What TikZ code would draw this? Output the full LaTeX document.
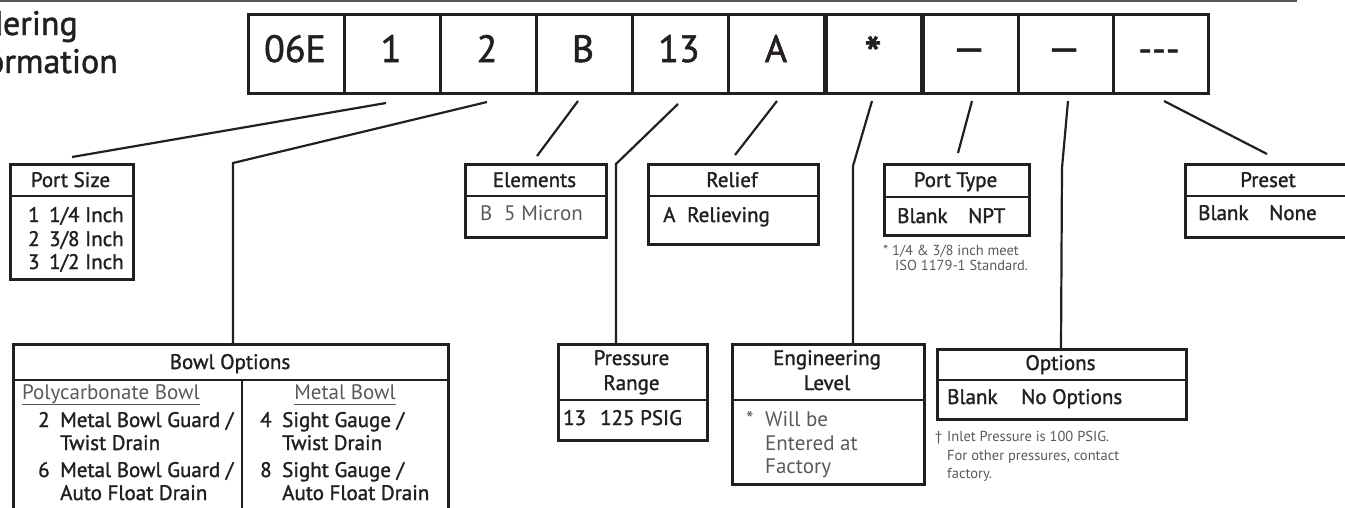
\documentclass[tikz,border=0pt]{standalone}
\usepackage{fontspec}
\setmainfont{PT Sans}[Ligatures=NoCommon]
\newfontfamily\plainfont{PT Sans}
\newfontfamily\medfont{PT Sans}[FakeBold=1.4]
\definecolor{ink}{HTML}{231F20}
\definecolor{gry}{HTML}{58595B}
\definecolor{rulegray}{HTML}{555555}
\newcommand{\codefont}{\medfont\fontsize{38}{40}\selectfont}
\newcommand{\starfont}{\medfont\fontsize{50}{52}\selectfont}
\newcommand{\dashfont}{\medfont\fontsize{41}{42}\selectfont}
\newcommand{\titfont}{\medfont\fontsize{34}{38}\selectfont}
\newcommand{\hdfont}{\medfont\fontsize{21}{23}\selectfont}
\newcommand{\ltfont}{\plainfont\fontsize{21}{23}\selectfont}
\newcommand{\fnfont}{\plainfont\fontsize{14.5}{16}\selectfont}
\tikzset{
  boxline/.style={draw=ink, line width=2.6pt},
  box/.style={boxline, inner sep=0pt, anchor=north west},
  lead/.style={draw=ink, line width=2.2pt},
  hd/.style={font=\hdfont, text=ink, anchor=base, inner sep=0pt},
  it/.style={font=\hdfont, text=ink, anchor=base west, inner sep=0pt},
  lt/.style={font=\ltfont, text=gry, anchor=base west, inner sep=0pt},
  fn/.style={font=\fnfont, text=gry, anchor=base west, inner sep=0pt},
  codetxt/.style={font=\codefont, text=ink, anchor=base, inner sep=0pt},
  cell/.style={boxline, inner sep=0pt, minimum height=79pt, anchor=north west},
}
\begin{document}
\begin{tikzpicture}[x=1pt,y=-1pt]
\useasboundingbox (0,0) rectangle (1345,507);
\clip (0,0) rectangle (1345,507);
% top rule
\draw[rulegray, line width=1.6pt] (0,0.8) -- (1297,0.8);
% title
\node[font=\titfont, text=ink, anchor=base east, inner sep=0pt] (t1) at (78,35) {Ordering};
\node[font=\titfont, text=ink, anchor=base east, inner sep=0pt] (t2) at (118,73) {Information};
% code cells
\node[cell, minimum width=96pt] (c1) at (247,13) {};
\node[cell, minimum width=96pt] (c2) at (343,13) {};
\node[cell, minimum width=96pt] (c3) at (439,13) {};
\node[cell, minimum width=96pt] (c4) at (535,13) {};
\node[cell, minimum width=96pt] (c5) at (631,13) {};
\node[cell, minimum width=96pt] (c6) at (727,13) {};
\node[cell, minimum width=99pt] (c7) at (823,13) {};
\node[cell, minimum width=95pt] (c8) at (825,13) {};
\node[cell, minimum width=96pt] (c9) at (921,13) {};
\node[cell, minimum width=95pt] (c10) at (1017,13) {};
\node[cell, minimum width=95pt] (c11) at (1112,13) {};
% code texts
\node[codetxt] (k1) at (295,62) {06E};
\node[codetxt] (k2) at (391,62) {1};
\node[codetxt] (k3) at (487,62) {2};
\node[codetxt] (k4) at (583,62) {B};
\node[codetxt] (k5) at (679,62) {13};
\node[codetxt] (k6) at (776,62) {A};
\node[font=\starfont, text=ink, anchor=base, inner sep=0pt] (k7) at (873,72) {*};
\node[font=\dashfont, text=ink, anchor=base, inner sep=0pt] (k8) at (969,62) {—};
\node[font=\dashfont, text=ink, anchor=base, inner sep=0pt] (k9) at (1064,62) {—};
\node[codetxt] (k10) at (1159,62) {-{}-{}-};
% ---------- boxes ----------
% Port Size
\node[box, minimum width=123pt, minimum height=115pt] (ps) at (9,163) {};
\draw[boxline] (9,196) -- (132,196);
\node[hd] (psh) at (70.5,187) {Port Size};
\node[it] (ps1n) at (28,222) {1};
\node[it] (ps1) at (49,222) {1/4 Inch};
\node[it] (ps2n) at (28,246) {2};
\node[it] (ps2) at (49,246) {3/8 Inch};
\node[it] (ps3n) at (28,269) {3};
\node[it] (ps3) at (49,269) {1/2 Inch};
% Elements
\node[box, minimum width=141pt, minimum height=73pt] (el) at (464,163) {};
\draw[boxline] (464,196) -- (605,196);
\node[hd] (elh) at (534.5,187) {Elements};
\node[lt] (el1n) at (480,220) {B};
\node[lt] (el1) at (504,220) {5 Micron};
% Relief
\node[box, minimum width=170pt, minimum height=80pt] (re) at (647,163) {};
\draw[boxline] (647,196) -- (817,196);
\node[hd] (reh) at (732,187) {Relief};
\node[it] (re1n) at (663,222) {A};
\node[it] (re1) at (687,222) {Relieving};
% Port Type
\node[box, minimum width=145pt, minimum height=71pt] (pt) at (883,163) {};
\draw[boxline] (883,197) -- (1028,197);
\node[hd] (pth) at (955.5,187) {Port Type};
\node[it] (pt1n) at (897,223) {Blank};
\node[it] (pt1) at (968,223) {NPT};
\node[fn] (ptf1) at (883,255) {* 1/4 \& 3/8 inch meet};
\node[fn] (ptf2) at (895,270) {ISO 1179-1 Standard.};
% Preset
\node[box, minimum width=200pt, minimum height=73pt] (pr) at (1184,163) {};
\draw[boxline] (1184,196) -- (1384,196);
\node[hd] (prh) at (1268,187) {Preset};
\node[it] (pr1n) at (1198,220) {Blank};
\node[it] (pr1) at (1269,220) {None};
% Bowl Options
\node[box, minimum width=435pt, minimum height=200pt] (bo) at (12,343) {};
\draw[boxline] (12,380) -- (447,380);
\draw[boxline] (242,380) -- (242,560);
\node[hd] (boh) at (230,369) {Bowl Options};
\node[lt] (pc) at (22,399) {Polycarbonate Bowl};
\draw[gry, line width=1pt] ([yshift=-5pt]pc.base west) -- ([yshift=-5pt]pc.base east);
\node[font=\ltfont, text=gry, anchor=base, inner sep=0pt] (mb) at (345,399) {Metal Bowl};
\draw[gry, line width=1pt] ([yshift=-5pt]mb.base west) -- ([yshift=-5pt]mb.base east);
\node[it] (bo2n) at (38,427) {2};
\node[it] (bo2a) at (60,427) {Metal Bowl Guard /};
\node[it] (bo2b) at (60,450) {Twist Drain};
\node[it] (bo6n) at (38,477) {6};
\node[it] (bo6a) at (60,477) {Metal Bowl Guard /};
\node[it] (bo6b) at (60,500) {Auto Float Drain};
\node[it] (bo4n) at (260,427) {4};
\node[it] (bo4a) at (282,427) {Sight Gauge /};
\node[it] (bo4b) at (282,450) {Twist Drain};
\node[it] (bo8n) at (260,477) {8};
\node[it] (bo8a) at (282,477) {Sight Gauge /};
\node[it] (bo8b) at (282,500) {Auto Float Drain};
% Pressure Range
\node[box, minimum width=149pt, minimum height=96pt] (pg) at (557,343) {};
\draw[boxline] (557,400) -- (706,400);
\node[hd] (pgh1) at (631.5,365) {Pressure};
\node[hd] (pgh2) at (631.5,390) {Range};
\node[it] (pg1n) at (563,425) {13};
\node[it] (pg1) at (600,425) {125 PSIG};
% Engineering Level
\node[box, minimum width=192pt, minimum height=140pt] (en) at (731,343) {};
\draw[boxline] (731,400) -- (923,400);
\node[hd] (enh1) at (827,365) {Engineering};
\node[hd] (enh2) at (827,390) {Level};
\node[lt] (en1n) at (746,426) {*};
\node[lt] (en1) at (765,426) {Will be};
\node[lt] (en2) at (765,450) {Entered at};
\node[lt] (en3) at (765,473) {Factory};
% Options
\node[box, minimum width=249pt, minimum height=70pt] (op) at (936,348) {};
\draw[boxline] (936,380) -- (1185,380);
\node[hd] (oph) at (1060.5,370) {Options};
\node[it] (op1n) at (947,404) {Blank};
\node[it] (op1) at (1021,404) {No Options};
\node[fn] (opf0) at (935,441) {†};
\node[fn] (opf1) at (947,441) {Inlet Pressure is 100 PSIG.};
\node[fn] (opf2) at (947,460) {For other pressures, contact};
\node[fn] (opf3) at (947,478) {factory.};
% ---------- leaders ----------
\coordinate (a1) at (386,103); \coordinate (b1) at (72,157);
\coordinate (a2) at (487,102); \coordinate (b2) at (233,163);
\coordinate (a3) at (578,101); \coordinate (b3) at (537,156);
\coordinate (a4) at (678,104); \coordinate (b4) at (616,164);
\coordinate (a5) at (777,101); \coordinate (b5) at (735,155);
\coordinate (a6) at (872,101); \coordinate (b6) at (853,166);
\coordinate (a7) at (972,101); \coordinate (b7) at (958,153);
\coordinate (a8) at (1068,101); \coordinate (b8) at (1062,168);
\coordinate (a9) at (1164,101); \coordinate (b9) at (1267,154);
\draw[lead] (a1) -- (b1);
\draw[lead] (a2) -- (b2) -- (b2 |- bo.north);
\draw[lead] (a3) -- (b3);
\draw[lead] (a4) -- (b4) -- (b4 |- pg.north);
\draw[lead] (a5) -- (b5);
\draw[lead] (a6) -- (b6) -- (b6 |- en.north);
\draw[lead] (a7) -- (b7);
\draw[lead, line join=round] (a8) -- (b8) -- (1061,348 |- op.north);
\draw[lead] (a9) -- (b9);
\end{tikzpicture}
\end{document}
